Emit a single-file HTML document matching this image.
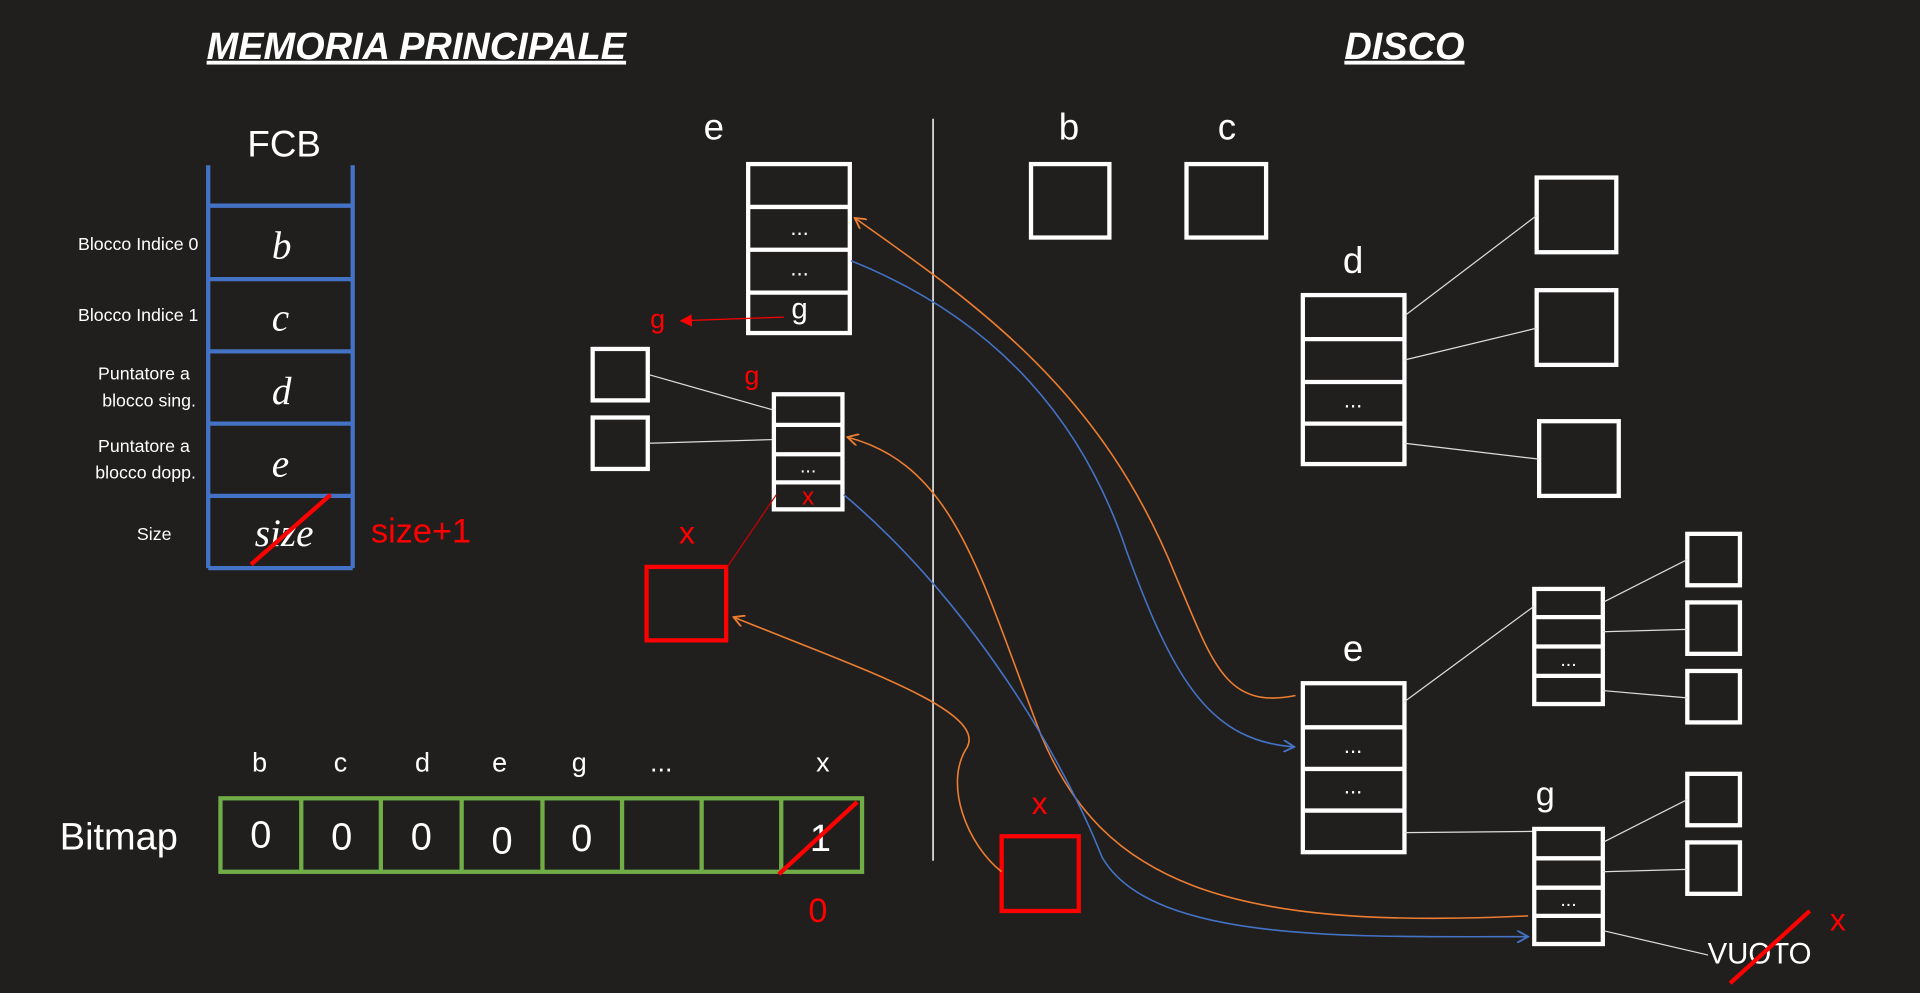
<!DOCTYPE html>
<html><head><meta charset="utf-8"><style>
html,body{margin:0;padding:0;background:#201f1e;width:1920px;height:993px;overflow:hidden}
svg{display:block}
text{font-family:"Liberation Sans",sans-serif;fill:#fff}
.blk{fill:none;stroke:#fff;stroke-width:3.5}
.thin{stroke:#ddd;stroke-width:1;fill:none}
.red{fill:#ff0000}
.serif{font-family:"Liberation Serif",serif;font-style:italic}
</style></head><body>
<svg width="1920" height="993" viewBox="0 0 1568 811">
<defs>
<marker id="ao" viewBox="0 0 10 10" refX="9" refY="5" markerWidth="10" markerHeight="10" markerUnits="userSpaceOnUse" orient="auto"><path d="M0,0 L9,5 L0,10" fill="none" stroke="#ed7d31" stroke-width="1.5"/></marker>
<marker id="ab" viewBox="0 0 10 10" refX="9" refY="5" markerWidth="10" markerHeight="10" markerUnits="userSpaceOnUse" orient="auto"><path d="M0,0 L9,5 L0,10" fill="none" stroke="#4472c4" stroke-width="1.5"/></marker>
<marker id="ar" viewBox="0 0 10 10" refX="9" refY="5" markerWidth="10" markerHeight="10" markerUnits="userSpaceOnUse" orient="auto"><path d="M0,0 L10,5 L0,10z" fill="#ff0000"/></marker>
</defs>
<rect width="1568" height="811" fill="#201f1e"/>

<text x="340" y="48" text-anchor="middle" font-size="31" font-weight="bold" font-style="italic" text-decoration="underline">MEMORIA PRINCIPALE</text>
<text x="1147" y="48" text-anchor="middle" font-size="31" font-weight="bold" font-style="italic" text-decoration="underline">DISCO</text>

<!-- FCB -->
<g>
<text x="232" y="128" text-anchor="middle" font-size="30">FCB</text>
<g stroke="#4472c4" stroke-width="3.5" fill="none">
<line x1="170" y1="135" x2="170" y2="464"/><line x1="288" y1="135" x2="288" y2="464"/>
<line x1="170" y1="168" x2="288" y2="168"/><line x1="170" y1="228" x2="288" y2="228"/>
<line x1="170" y1="287" x2="288" y2="287"/><line x1="170" y1="346" x2="288" y2="346"/>
<line x1="170" y1="405" x2="288" y2="405"/><line x1="170" y1="464" x2="288" y2="464"/>
</g>
<g class="serif" font-size="32" text-anchor="middle">
<text x="230" y="211" class="serif">b</text><text x="229" y="270" class="serif">c</text>
<text x="230" y="330" class="serif">d</text><text x="229" y="389" class="serif">e</text>
<text x="232" y="446" class="serif">size</text>
</g>
<g font-size="14.5" text-anchor="end">
<text x="162" y="204">Blocco Indice 0</text><text x="162" y="262">Blocco Indice 1</text>
<text x="155" y="310">Puntatore a</text><text x="160" y="332">blocco sing.</text>
<text x="155" y="369">Puntatore a</text><text x="160" y="391">blocco dopp.</text>
<text x="140" y="441">Size</text>
</g>
<line x1="205" y1="461" x2="270" y2="404" stroke="#ff0000" stroke-width="3.5"/>
<text x="303" y="443" font-size="28" class="red">size+1</text>
</g>

<!-- Bitmap -->
<g>
<text x="97" y="694" text-anchor="middle" font-size="31">Bitmap</text>
<rect x="180" y="652" width="524" height="60" fill="none" stroke="#70ad47" stroke-width="3.5"/>
<g stroke="#70ad47" stroke-width="3.5">
<line x1="246" y1="652" x2="246" y2="712"/><line x1="311" y1="652" x2="311" y2="712"/>
<line x1="377" y1="652" x2="377" y2="712"/><line x1="443" y1="652" x2="443" y2="712"/>
<line x1="508" y1="652" x2="508" y2="712"/><line x1="573" y1="652" x2="573" y2="712"/>
<line x1="638" y1="652" x2="638" y2="712"/>
</g>
<g font-size="31" text-anchor="middle">
<text x="213" y="692">0</text><text x="279" y="694">0</text><text x="344" y="694">0</text>
<text x="410" y="697">0</text><text x="475" y="695">0</text><text x="670" y="695">1</text>
</g>
<g font-size="22" text-anchor="middle">
<text x="212" y="630">b</text><text x="278" y="630">c</text><text x="345" y="630">d</text>
<text x="408" y="630">e</text><text x="473" y="630">g</text><text x="540" y="630">...</text>
<text x="672" y="630">x</text>
</g>
<line x1="636" y1="714" x2="700" y2="655" stroke="#ff0000" stroke-width="3.5"/>
<text x="668" y="753" text-anchor="middle" font-size="28" class="red">0</text>
</g>

<line x1="762" y1="97" x2="762" y2="703" stroke="#fff" stroke-width="1.2"/>

<!-- memory e block -->
<g>
<text x="583" y="114" text-anchor="middle" font-size="30">e</text>
<rect x="611" y="134" width="83" height="138" class="blk"/>
<line x1="611" y1="169" x2="694" y2="169" class="blk"/><line x1="611" y1="204" x2="694" y2="204" class="blk"/><line x1="611" y1="239" x2="694" y2="239" class="blk"/>
<text x="653" y="192" text-anchor="middle" font-size="18">...</text>
<text x="653" y="225" text-anchor="middle" font-size="18">...</text>
<text x="653" y="260" text-anchor="middle" font-size="24">g</text>
</g>
<text x="537" y="268" text-anchor="middle" font-size="22" class="red">g</text>
<line x1="640" y1="259" x2="556" y2="262" stroke="#ff0000" stroke-width="1" marker-end="url(#ar)"/>

<rect x="484" y="285" width="45" height="42" class="blk"/>
<rect x="484" y="341" width="45" height="42" class="blk"/>
<line x1="530" y1="306" x2="632" y2="335" class="thin"/>
<line x1="530" y1="362" x2="632" y2="359" class="thin"/>

<g>
<text x="614" y="314" text-anchor="middle" font-size="22" class="red">g</text>
<rect x="632" y="322" width="56" height="94" class="blk"/>
<line x1="632" y1="347" x2="688" y2="347" class="blk"/><line x1="632" y1="371" x2="688" y2="371" class="blk"/><line x1="632" y1="394" x2="688" y2="394" class="blk"/>
<text x="660" y="386" text-anchor="middle" font-size="16">...</text>
<text x="660" y="412" text-anchor="middle" font-size="20" class="red">x</text>
</g>
<text x="561" y="444" text-anchor="middle" font-size="26" class="red">x</text>
<rect x="528" y="463" width="65" height="60" fill="none" stroke="#ff0000" stroke-width="3.5"/>
<line x1="594" y1="463" x2="634" y2="404" stroke="#c00" stroke-width="1"/>

<!-- disk -->
<text x="873" y="114" text-anchor="middle" font-size="30">b</text>
<rect x="842" y="134" width="64" height="60" class="blk"/>
<text x="1002" y="114" text-anchor="middle" font-size="30">c</text>
<rect x="969" y="134" width="65" height="60" class="blk"/>

<g>
<text x="1105" y="223" text-anchor="middle" font-size="30">d</text>
<rect x="1064" y="241" width="83" height="138" class="blk"/>
<line x1="1064" y1="277" x2="1147" y2="277" class="blk"/><line x1="1064" y1="312" x2="1147" y2="312" class="blk"/><line x1="1064" y1="346" x2="1147" y2="346" class="blk"/>
<text x="1105" y="333" text-anchor="middle" font-size="18">...</text>
</g>
<rect x="1255" y="145" width="65" height="61" class="blk"/>
<rect x="1255" y="237" width="65" height="61" class="blk"/>
<rect x="1257" y="344" width="65" height="61" class="blk"/>
<line x1="1147" y1="258" x2="1255" y2="176" class="thin"/>
<line x1="1147" y1="294" x2="1255" y2="268" class="thin"/>
<line x1="1147" y1="362" x2="1257" y2="375" class="thin"/>

<g>
<text x="1105" y="540" text-anchor="middle" font-size="30">e</text>
<rect x="1064" y="558" width="83" height="138" class="blk"/>
<line x1="1064" y1="594" x2="1147" y2="594" class="blk"/><line x1="1064" y1="628" x2="1147" y2="628" class="blk"/><line x1="1064" y1="662" x2="1147" y2="662" class="blk"/>
<text x="1105" y="615" text-anchor="middle" font-size="18">...</text>
<text x="1105" y="648" text-anchor="middle" font-size="18">...</text>
</g>
<g>
<rect x="1253" y="481" width="56" height="94" class="blk"/>
<line x1="1253" y1="504" x2="1309" y2="504" class="blk"/><line x1="1253" y1="528" x2="1309" y2="528" class="blk"/><line x1="1253" y1="552" x2="1309" y2="552" class="blk"/>
<text x="1281" y="544" text-anchor="middle" font-size="16">...</text>
</g>
<rect x="1378" y="436" width="43" height="42" class="blk"/>
<rect x="1378" y="492" width="43" height="42" class="blk"/>
<rect x="1378" y="548" width="43" height="42" class="blk"/>
<line x1="1147" y1="573" x2="1253" y2="495" class="thin"/>
<line x1="1309" y1="492" x2="1378" y2="457" class="thin"/>
<line x1="1309" y1="516" x2="1378" y2="514" class="thin"/>
<line x1="1309" y1="564" x2="1378" y2="570" class="thin"/>
<line x1="1147" y1="680" x2="1253" y2="679" class="thin"/>

<g>
<text x="1262" y="658" text-anchor="middle" font-size="28">g</text>
<rect x="1253" y="677" width="56" height="94" class="blk"/>
<line x1="1253" y1="701" x2="1309" y2="701" class="blk"/><line x1="1253" y1="725" x2="1309" y2="725" class="blk"/><line x1="1253" y1="748" x2="1309" y2="748" class="blk"/>
<text x="1281" y="740" text-anchor="middle" font-size="16">...</text>
</g>
<rect x="1378" y="632" width="43" height="42" class="blk"/>
<rect x="1378" y="688" width="43" height="42" class="blk"/>
<line x1="1309" y1="688" x2="1378" y2="653" class="thin"/>
<line x1="1309" y1="712" x2="1378" y2="710" class="thin"/>
<line x1="1309" y1="760" x2="1395" y2="780" class="thin"/>
<text x="1437" y="787" text-anchor="middle" font-size="24">VUOTO</text>
<line x1="1413" y1="803" x2="1478" y2="744" stroke="#ff0000" stroke-width="3.5"/>
<text x="1501" y="760" text-anchor="middle" font-size="26" class="red">x</text>

<text x="849" y="665" text-anchor="middle" font-size="26" class="red">x</text>
<rect x="818" y="683" width="63" height="61" fill="none" stroke="#ff0000" stroke-width="3.5"/>

<!-- curves -->
<g fill="none" stroke-width="1.3">
<path d="M1058,568 C1000,580 990,540 960,470 C900,320 800,250 698,178" stroke="#ed7d31" marker-end="url(#ao)"/>
<path d="M695,213 C800,255 880,330 920,450 C960,560 990,605 1057,610" stroke="#4472c4" marker-end="url(#ab)"/>
<path d="M1248,748 C1000,760 900,720 850,600 C800,470 780,380 692,357" stroke="#ed7d31" marker-end="url(#ao)"/>
<path d="M689,404 C780,480 860,600 900,700 C940,770 1100,765 1248,765" stroke="#4472c4" marker-end="url(#ab)"/>
<path d="M818,712 C790,690 770,640 790,610 C805,580 700,545 599,504" stroke="#ed7d31" marker-end="url(#ao)"/>
</g>
</svg>
</body></html>
